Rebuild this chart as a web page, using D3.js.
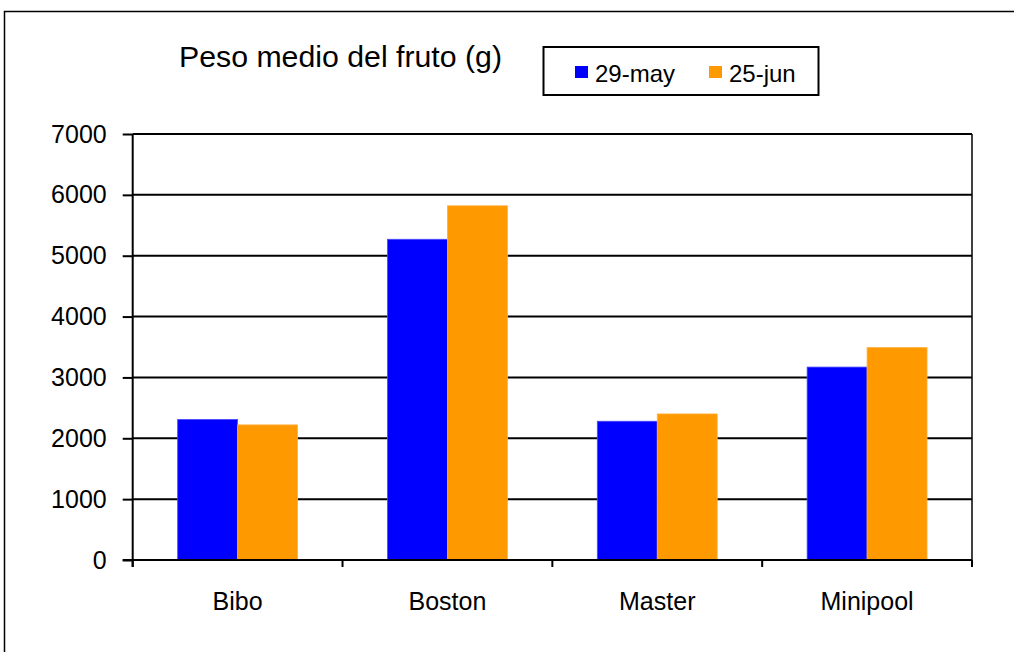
<!DOCTYPE html>
<html>
<head>
<meta charset="utf-8">
<script src="https://cdn.jsdelivr.net/npm/d3@7/dist/d3.min.js"></script>
<style>
  html, body { margin: 0; padding: 0; background: #fff; }
  svg { display: block; font-family: "Liberation Sans", Arial, sans-serif; }
</style>
</head>
<body>
<svg id="chart" width="1014" height="652"></svg>
<script>
const categories = ["Bibo", "Boston", "Master", "Minipool"];
const seriesNames = ["29-may", "25-jun"];
const may29 = [2310, 5270, 2280, 3170];
const jun25 = [2220, 5820, 2400, 3490];
const yTicks = [0, 1000, 2000, 3000, 4000, 5000, 6000, 7000];
const colors = ["#0000FF", "#FF9900"];
const titleText = "Peso medio del fruto (g)";

const seriesValues = [may29, jun25];
const svg = d3.select("#chart");

// outer frame
svg.append("rect").attr("x", 4.5).attr("y", 11.5).attr("width", 1020).attr("height", 660)
  .attr("fill", "none").attr("stroke", "#000").attr("stroke-width", 1.5);

const pLeft = 132.7, pRight = 972, pTop = 134, pBottom = 560;

const y = d3.scaleLinear().domain([0, 7000]).range([pBottom, pTop]);
const x0 = d3.scaleBand().domain(categories).range([pLeft, pRight]).paddingInner(0).paddingOuter(0);
const x1 = d3.scaleBand().domain(seriesNames).range([0, x0.bandwidth()]).paddingInner(0).paddingOuter(0.75);

// gridlines
svg.append("g").selectAll("line").data(yTicks.filter(d => d > 0)).join("line")
  .attr("x1", pLeft).attr("x2", pRight)
  .attr("y1", d => y(d)).attr("y2", d => y(d))
  .attr("stroke", "#000").attr("stroke-width", 2);

// right border of plot
svg.append("line").attr("x1", pRight).attr("x2", pRight).attr("y1", pTop).attr("y2", pBottom)
  .attr("stroke", "#000").attr("stroke-width", 1.5);

// bars
const groups = svg.append("g").selectAll("g").data(categories).join("g")
  .attr("transform", d => `translate(${x0(d)},0)`);
groups.selectAll("rect").data((c, i) => seriesNames.map((s, j) => ({ s, j, v: seriesValues[j][i] })))
  .join("rect")
  .attr("x", d => x1(d.s))
  .attr("y", d => y(d.v))
  .attr("width", x1.bandwidth())
  .attr("height", d => y(0) - y(d.v))
  .attr("fill", d => colors[d.j])
  .attr("stroke", d => d.j === 0 ? "#4a4aff" : "#ffb040")
  .attr("stroke-width", 0.8);

// Y axis
const yAxis = d3.axisLeft(y).tickValues(yTicks).tickSize(10).tickPadding(16).tickFormat(d3.format("d"));
const gy = svg.append("g").attr("transform", `translate(${pLeft},0)`).call(yAxis);
gy.select(".domain").attr("stroke", "#000").attr("stroke-width", 2).attr("d", `M0,${pBottom + 7}V${pTop}`);
gy.selectAll(".tick line").attr("stroke", "#000").attr("stroke-width", 2);
gy.selectAll(".tick text").attr("font-size", 25).attr("fill", "#000")
  .attr("font-family", "'Liberation Sans', Arial, sans-serif");

// X axis
const gx = svg.append("g").attr("transform", `translate(0,${pBottom})`);
gx.append("line").attr("x1", pLeft - 10).attr("x2", pRight).attr("y1", 0).attr("y2", 0)
  .attr("stroke", "#000").attr("stroke-width", 2);
const boundaries = categories.map(c => x0(c)).concat([pRight]);
gx.selectAll("line.tk").data(boundaries).join("line").attr("class", "tk")
  .attr("x1", d => d).attr("x2", d => d).attr("y1", 0).attr("y2", 7)
  .attr("stroke", "#000").attr("stroke-width", 2);
gx.selectAll("text").data(categories).join("text")
  .attr("x", d => x0(d) + x0.bandwidth() / 2)
  .attr("y", 50)
  .attr("text-anchor", "middle")
  .attr("font-size", 25)
  .attr("fill", "#000")
  .text(d => d);

// title
svg.append("text").attr("x", 179).attr("y", 67).attr("font-size", 30).attr("fill", "#000")
  .attr("textLength", 323).attr("lengthAdjust", "spacingAndGlyphs")
  .text(titleText);

// legend
const lg = svg.append("g");
lg.append("rect").attr("x", 543.5).attr("y", 47).attr("width", 275).attr("height", 48)
  .attr("fill", "#fff").attr("stroke", "#000").attr("stroke-width", 2);
const legendX = [575, 709];
seriesNames.forEach((s, i) => {
  lg.append("rect").attr("x", legendX[i]).attr("y", 66).attr("width", 13).attr("height", 12)
    .attr("fill", colors[i]);
  lg.append("text").attr("x", legendX[i] + 20).attr("y", 81.5).attr("font-size", 24).attr("fill", "#000")
    .text(s);
});
</script>
</body>
</html>
